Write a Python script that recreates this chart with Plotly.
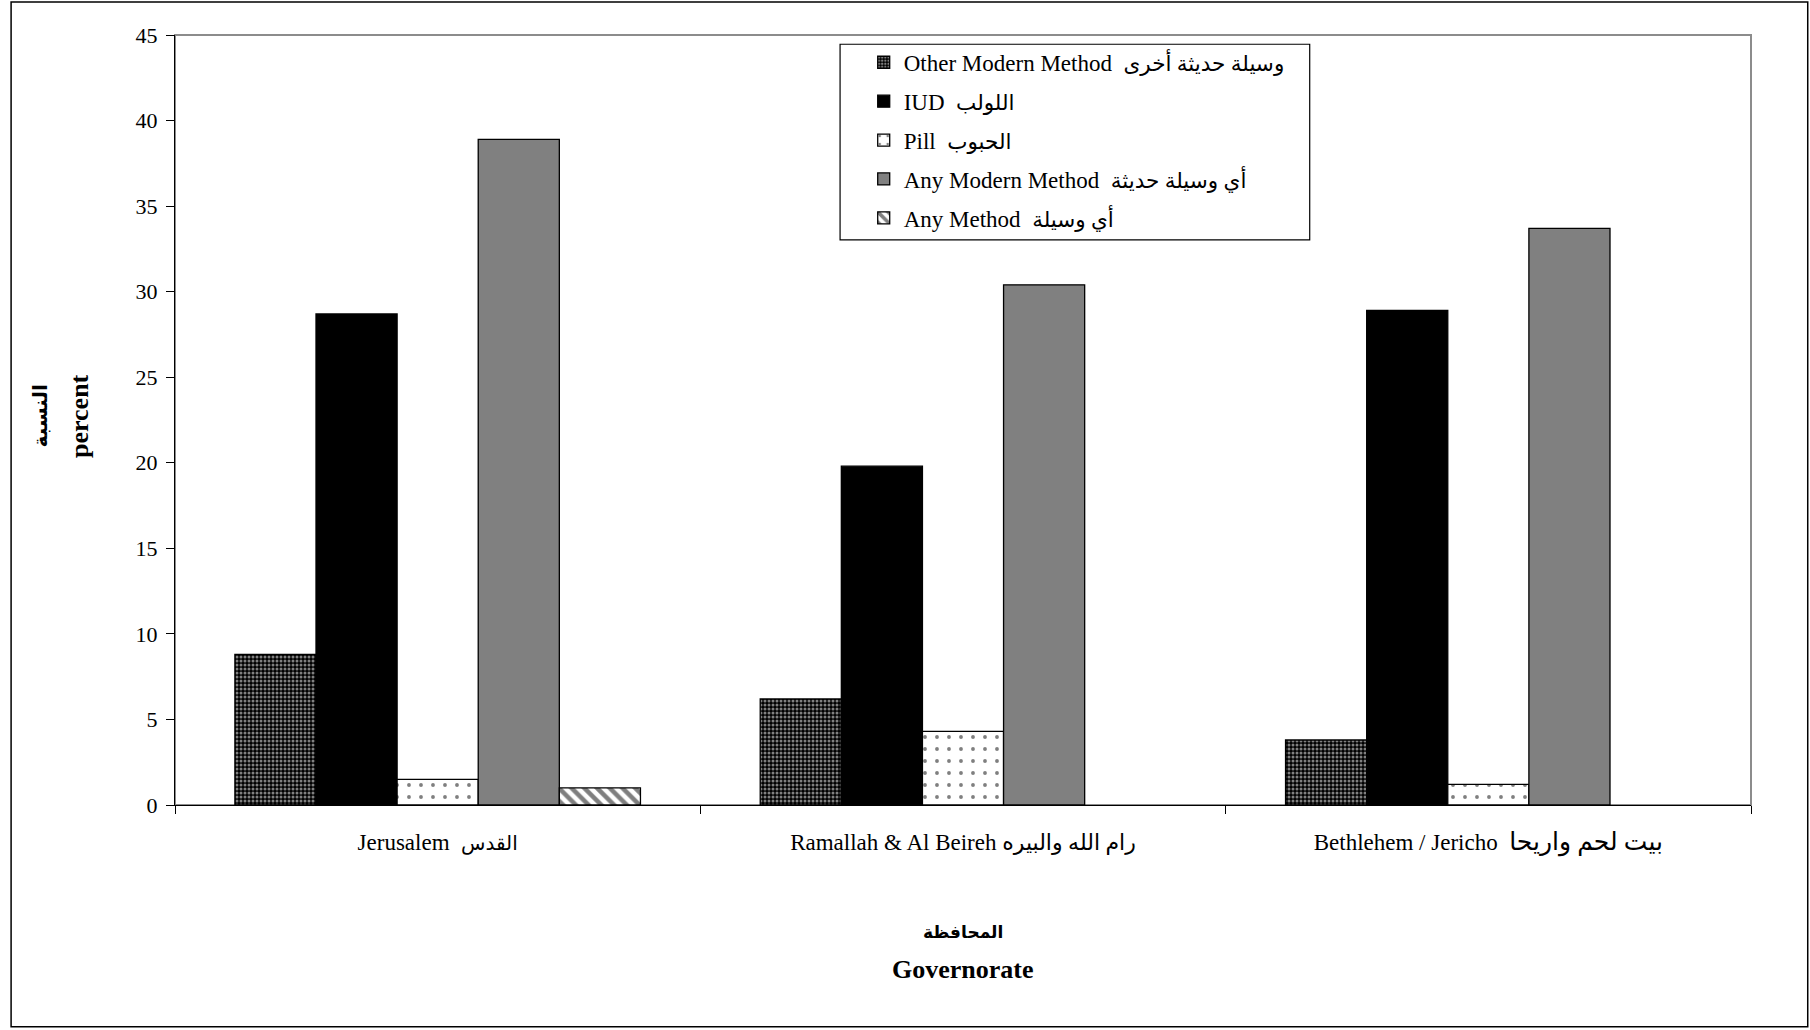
import plotly.graph_objects as go

AR = "<span style='font-size:{}px'>{}</span>"

categories = ["Jerusalem  القدس", "Ramallah & Al Beireh رام الله والبيره", "Bethlehem / Jericho  بيت لحم واريحا"]
category_labels = [
    "Jerusalem  " + AR.format(20, "القدس"),
    "Ramallah & Al Beireh " + AR.format(22, "رام الله والبيره"),
    "Bethlehem / Jericho  " + AR.format(25, "بيت لحم واريحا"),
]
series_names = [
    "Other Modern Method  " + AR.format(21.5, "وسيلة حديثة أخرى"),
    "IUD  " + AR.format(21.5, "اللولب"),
    "Pill  " + AR.format(21.5, "الحبوب"),
    "Any Modern Method  " + AR.format(21.5, "أي وسيلة حديثة"),
    "Any Method  " + AR.format(21.5, "أي وسيلة"),
]
other_modern = [8.8, 6.2, 3.8]
iud = [28.7, 19.8, 28.9]
pill = [1.5, 4.3, 1.2]
any_modern = [38.9, 30.4, 33.7]
any_method = [1.0, None, None]
y_ticks = [0, 5, 10, 15, 20, 25, 30, 35, 40, 45]

FONT = "Liberation Serif, Times New Roman, DejaVu Sans, serif"

styles = [
    dict(color="black", pattern=dict(shape=".", fgcolor="white", bgcolor="black", size=4, solidity=0.45)),
    dict(color="black"),
    dict(color="white", pattern=dict(shape=".", fgcolor="black", bgcolor="white", size=12, solidity=0.08)),
    dict(color="#808080"),
    dict(color="white", pattern=dict(shape="\\", fgcolor="black", bgcolor="white", size=9, solidity=0.5)),
]
values = [other_modern, iud, pill, any_modern, any_method]

fig = go.Figure()
for i, (name, vals, st) in enumerate(zip(series_names, values, styles)):
    marker = dict(color=st["color"], line=dict(color="black", width=1.3))
    if "pattern" in st:
        marker["pattern"] = st["pattern"]
    fig.add_trace(go.Bar(x=categories, y=vals, name=name, marker=marker,
                         legendgroup="g%d" % i))

fig.update_layout(
    width=1810, height=1030,
    margin=dict(l=175, r=59, t=35, b=225),
    paper_bgcolor="white", plot_bgcolor="white",
    barmode="group", bargap=0.228, bargroupgap=0,
    font=dict(family=FONT, size=23, color="black"),
    showlegend=True,
    legend=dict(x=0.437, y=0.9925, xanchor="left", yanchor="top",
                bgcolor="rgba(0,0,0,0)", borderwidth=0,
                font=dict(family=FONT, size=23, color="black"),
                tracegroupgap=6, traceorder="grouped"),
    xaxis=dict(showline=True, linecolor="black", linewidth=1.2,
               ticks="outside", ticklen=8, tickcolor="black", tickson="boundaries",
               tickmode="array", tickvals=categories, ticktext=category_labels,
               ticklabelstandoff=16, showgrid=False, zeroline=False,
               tickfont=dict(family=FONT, size=23)),
    yaxis=dict(range=[0, 45], tickvals=y_ticks, showline=True, linecolor="black",
               linewidth=1.2, ticks="outside", ticklen=8, tickcolor="black",
               showgrid=False, zeroline=False, ticklabelstandoff=4,
               tickfont=dict(family=FONT, size=22)),
    shapes=[
        dict(type="rect", xref="paper", yref="paper", x0=0, x1=1, y0=0, y1=1,
             line=dict(color="#8c8c8c", width=2), layer="below"),
        dict(type="rect", xref="paper", yref="paper", x0=-0.104, x1=1.036, y0=-0.288, y1=1.043,
             line=dict(color="black", width=1.5), layer="below"),
        dict(type="rect", xref="paper", yref="paper", x0=0.422, x1=0.720, y0=0.734, y1=0.988,
             line=dict(color="black", width=1.2), fillcolor="white", layer="above"),
    ],
    annotations=[
        dict(text="<b>المحافظة</b>", xref="paper", yref="paper", x=0.5, y=-0.166,
             xanchor="center", yanchor="middle", showarrow=False, font=dict(family=FONT, size=17)),
        dict(text="<b>Governorate</b>", xref="paper", yref="paper", x=0.5, y=-0.214,
             xanchor="center", yanchor="middle", showarrow=False, font=dict(family=FONT, size=26)),
        dict(text="<b>النسبة</b>", xref="paper", yref="paper", x=-0.0855, y=0.505,
             xanchor="center", yanchor="middle", textangle=-90, showarrow=False,
             font=dict(family=FONT, size=20)),
        dict(text="<b>percent</b>", xref="paper", yref="paper", x=-0.061, y=0.505,
             xanchor="center", yanchor="middle", textangle=-90, showarrow=False,
             font=dict(family=FONT, size=26)),
    ],
)

fig.write_html("out.html", post_script="document.body.style.margin='0px';",
               config={"displayModeBar": False})
